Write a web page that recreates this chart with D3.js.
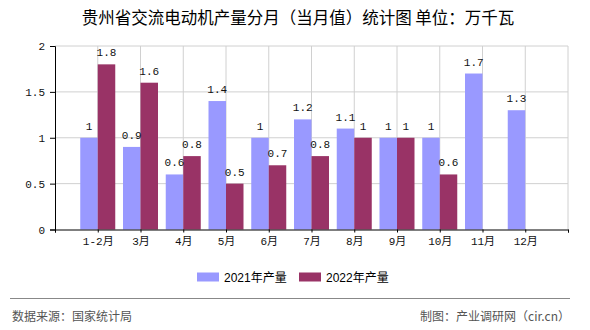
<!DOCTYPE html>
<html><head><meta charset="utf-8">
<script src="https://cdn.jsdelivr.net/npm/d3@7"></script>
<style>
html,body{margin:0;padding:0;background:#fff;}
svg{display:block;}
</style></head>
<body>
<svg id="chart" width="590" height="330"></svg>
<script>
const categories = ["1-2月","3月","4月","5月","6月","7月","8月","9月","10月","11月","12月"];
const series2021 = [1,0.9,0.6,1.4,1,1.2,1.1,1,1,1.7,1.3];
const series2022 = [1.8,1.6,0.8,0.5,0.7,0.8,1,1,0.6,null,null];
const seriesNames = ["2021年产量","2022年产量"];
const colors = ["#9999ff","#993366"];
const yTicks = [0,0.5,1,1.5,2];
const title = "贵州省交流电动机产量分月（当月值）统计图 单位：万千瓦";
const sourceText = "数据来源：国家统计局";
const makerText = "制图：产业调研网（cir.cn）";

(function(){
const svg = d3.select("#chart");
const pL = 55, pR = 568, pT = 46, pB = 229.5;
const smallFont = "'Liberation Mono','Noto Sans CJK SC',monospace";
const cjk = "'Noto Sans CJK SC','Liberation Sans',sans-serif";

const x = d3.scaleLinear().domain([0, categories.length + 1]).range([pL, pR]);
const y = d3.scaleLinear().domain([0, 2]).range([pB, pT]);
const barW = 17.5;

// title
svg.append("text").attr("x", 298).attr("y", 24).attr("text-anchor","middle")
  .style("font-family", cjk).style("font-size","16.5px").style("font-weight","400")
  .attr("fill","#000").text(title);

// grid
const g = svg.append("g");
g.selectAll("line.h").data(yTicks.filter(d=>d>0)).join("line")
  .attr("class","h")
  .attr("x1", pL).attr("x2", pR).attr("y1", d=>y(d)).attr("y2", d=>y(d))
  .attr("stroke","#d0d0d0").attr("stroke-width",1);
g.selectAll("line.v").data(d3.range(1, categories.length + 2)).join("line")
  .attr("class","v")
  .attr("x1", d=>x(d)).attr("x2", d=>x(d)).attr("y1", pT).attr("y2", pB)
  .attr("stroke","#d0d0d0").attr("stroke-width",1);

// bars
const data = categories.map((c,i)=>({c, i, a: series2021[i], b: series2022[i]}));
const bars = svg.append("g");
bars.selectAll("rect.a").data(data.filter(d=>d.a!=null)).join("rect")
  .attr("class","a")
  .attr("x", d=>x(d.i+1)-barW).attr("width", barW)
  .attr("y", d=>y(d.a)).attr("height", d=>y(0)-y(d.a)).attr("fill", colors[0]);
bars.selectAll("rect.b").data(data.filter(d=>d.b!=null)).join("rect")
  .attr("class","b")
  .attr("x", d=>x(d.i+1)).attr("width", barW)
  .attr("y", d=>y(d.b)).attr("height", d=>y(0)-y(d.b)).attr("fill", colors[1]);

// value labels
const lab = svg.append("g").style("font-family", smallFont).style("font-size","11px").attr("fill","#111");
lab.selectAll("text.a").data(data.filter(d=>d.a!=null)).join("text")
  .attr("class","a")
  .attr("x", d=>x(d.i+1)-barW/2).attr("y", d=>y(d.a)-8).attr("text-anchor","middle").text(d=>d.a);
lab.selectAll("text.b").data(data.filter(d=>d.b!=null)).join("text")
  .attr("class","b")
  .attr("x", d=>x(d.i+1)+barW/2).attr("y", d=>y(d.b)-8).attr("text-anchor","middle").text(d=>d.b);

// axes
const yAxis = svg.append("g").attr("transform", `translate(${pL},0)`)
  .call(d3.axisLeft(y).tickValues(yTicks).tickSize(5).tickPadding(5).tickFormat(d=>String(d)));
const xAxis = svg.append("g").attr("transform", `translate(0,${pB})`)
  .call(d3.axisBottom(x).tickValues(d3.range(0, categories.length + 2)).tickSize(3).tickPadding(5)
    .tickFormat(d => (d>=1 && d<=categories.length) ? categories[d-1] : ""));
[yAxis, xAxis].forEach(a=>{
  a.select(".domain").attr("stroke","#000");
  a.selectAll(".tick line").attr("stroke","#000");
  a.selectAll("text").style("font-family", smallFont).style("font-size","11px").attr("fill","#111");
});

// legend
const legend = svg.append("g");
const legX = [197, 299];
seriesNames.forEach((n,i)=>{
  legend.append("rect").attr("x", legX[i]).attr("y", 272.5).attr("width", 22).attr("height", 9).attr("fill", colors[i]);
  legend.append("text").attr("x", legX[i]+27).attr("y", 281.5)
    .style("font-family","'Liberation Sans','Noto Sans CJK SC',sans-serif").style("font-size","12px")
    .attr("fill","#000").text(n);
});

// footer
svg.append("line").attr("x1",10).attr("x2",570).attr("y1",298.5).attr("y2",298.5).attr("stroke","#888").attr("stroke-width",1.2);
svg.append("text").attr("x",12).attr("y",321).style("font-family",cjk).style("font-size","12px").attr("fill","#555").text(sourceText);
svg.append("text").attr("x",570).attr("y",321).attr("text-anchor","end").style("font-family",cjk).style("font-size","12px").attr("fill","#555").text(makerText);
})();
</script>
</body></html>
